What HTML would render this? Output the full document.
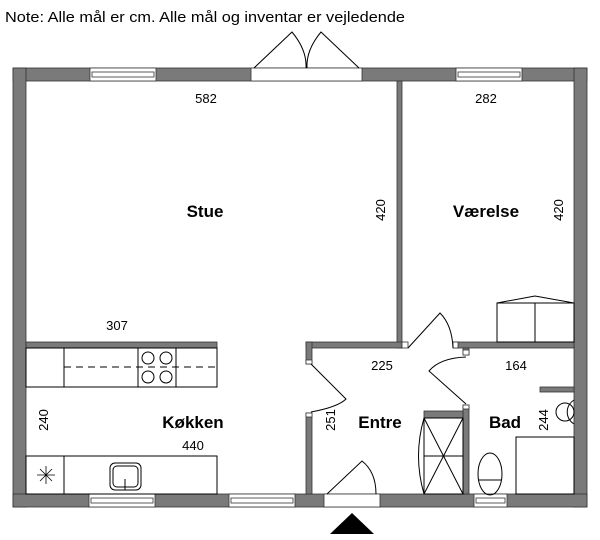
<!DOCTYPE html>
<html><head><meta charset="utf-8"><style>
html,body{margin:0;padding:0;background:#fff}
svg{display:block}
text{font-family:"Liberation Sans",sans-serif;fill:#000}
</style></head><body>
<svg width="600" height="540" viewBox="0 0 600 540" xmlns="http://www.w3.org/2000/svg">
<text x="5" y="22" font-size="15" textLength="400" lengthAdjust="spacingAndGlyphs">Note: Alle mål er cm. Alle mål og inventar er vejledende</text>
<g fill="#7a7a7a" stroke="#333" stroke-width="0.8">
<rect x="13" y="68" width="574" height="13"/>
<rect x="13" y="68" width="13" height="439"/>
<rect x="574" y="68" width="13" height="439"/>
<rect x="13" y="494" width="574" height="13"/>
<rect x="397" y="81" width="5" height="267"/>
<rect x="26" y="342" width="191" height="6"/>
<rect x="306" y="342" width="96" height="6"/>
<rect x="306" y="342" width="6" height="22"/>
<rect x="306" y="413" width="6" height="81"/>
<rect x="453" y="342" width="121" height="6"/>
<rect x="463" y="348" width="6" height="7"/>
<rect x="463" y="405" width="6" height="89"/>
<rect x="424" y="411" width="39" height="7"/>
<rect x="540" y="387" width="34" height="5"/>
</g>
<g fill="#fff" stroke="#333" stroke-width="0.8">
<rect x="90" y="68" width="66" height="13"/><rect x="92" y="72" width="62" height="5"/>
<rect x="456" y="68" width="66" height="13"/><rect x="458" y="72" width="62" height="5"/>
<rect x="251" y="68" width="111" height="13"/>
<rect x="89" y="494" width="66" height="13"/><rect x="91" y="498" width="62" height="5"/>
<rect x="229" y="494" width="66" height="13"/><rect x="231" y="498" width="62" height="5"/>
<rect x="474" y="494" width="33" height="13"/><rect x="476" y="498" width="29" height="5"/>
<rect x="324" y="494" width="56" height="13"/>
<rect x="306" y="360" width="6" height="4"/><rect x="306" y="413" width="6" height="4"/>
<rect x="402" y="342" width="6" height="6"/><rect x="453" y="342" width="5" height="6"/>
<rect x="463" y="350" width="6" height="5"/><rect x="463" y="405" width="6" height="4"/>
</g>
<g fill="none" stroke="#000" stroke-width="1">
<path d="M254 68 L292 32 Q307 50 306 68"/><path d="M359 68 L321 32 Q306 50 307 68"/>
<rect x="26" y="348" width="191" height="39"/>
<line x1="64" y1="348" x2="64" y2="387"/>
<rect x="138" y="348" width="38" height="39"/>
<line x1="64" y1="367" x2="217" y2="367" stroke-dasharray="7,5"/>
<circle cx="148" cy="358" r="6"/><circle cx="166" cy="358" r="6"/>
<circle cx="148" cy="377" r="6"/><circle cx="166" cy="377" r="6"/>
<rect x="26" y="456" width="191" height="38"/>
<line x1="64" y1="456" x2="64" y2="494"/>
<rect x="110" y="463" width="31" height="27" rx="5"/>
<rect x="113" y="466" width="25" height="21" rx="4"/>
<line x1="125" y1="479" x2="125" y2="490"/>
<path d="M37 475 H55 M46 466 V484 M40 469 L52 481 M52 469 L40 481" stroke-width="0.8"/>
<path d="M408 348 L440 313 Q452 325 453 348"/>
<path d="M466 404 L429 371 Q440 358 466 357"/>
<path d="M311 364 L346 399 Q338 407 311 412"/>
<path d="M327 494 L362 461 Q376 472 376 494"/>
<rect x="424" y="418" width="39" height="76"/>
<path d="M424 418 L463 494 M463 418 L424 494 M424 456 H463"/>
<path d="M424 418 Q413 456 424 494"/>
<rect x="497" y="303" width="77" height="39"/>
<line x1="535" y1="303" x2="535" y2="342"/>
<path d="M497 303 L535 296 L574 303"/>
<rect x="516" y="437" width="58" height="57"/>
<path d="M574 400 A14 14 0 0 0 574 424" /><circle cx="565" cy="412" r="9"/>
<ellipse cx="490" cy="474" rx="12" ry="21"/>
<line x1="479" y1="480" x2="501" y2="480"/>
</g>
<path d="M330 534 L352 513 L374 534 Z" fill="#000"/>
<g font-size="13" text-anchor="middle">
<text x="206" y="103">582</text><text x="486" y="103">282</text>
<text x="117" y="330">307</text><text x="193" y="450">440</text>
<text x="382" y="370">225</text><text x="516" y="370">164</text>
<text transform="translate(385,210) rotate(-90)">420</text>
<text transform="translate(563,210) rotate(-90)">420</text>
<text transform="translate(48,420) rotate(-90)">240</text>
<text transform="translate(335,420) rotate(-90)">251</text>
<text transform="translate(548,420) rotate(-90)">244</text>
</g>
<g font-size="17" font-weight="bold" text-anchor="middle">
<text x="205" y="217">Stue</text><text x="486" y="217">Værelse</text>
<text x="193" y="428">Køkken</text><text x="380" y="428">Entre</text><text x="505" y="428">Bad</text>
</g>
</svg>
</body></html>
